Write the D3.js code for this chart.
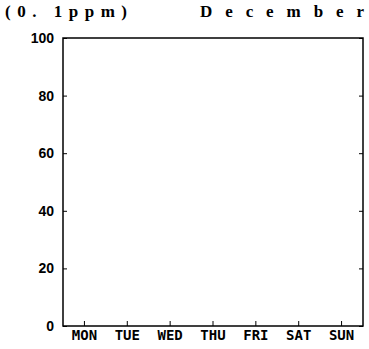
<!DOCTYPE html>
<meta charset="utf-8">
<style>
body { margin: 0; background: #fff; }
svg text { fill: #000; }
.axis path, .axis line { stroke: #000; }
</style>
<svg width="369" height="349"></svg>
<script src="https://d3js.org/d3.v7.min.js"></script>
<script>

// chart data
var days = ["MON", "TUE", "WED", "THU", "FRI", "SAT", "SUN"];
var yTicks = [0, 20, 40, 60, 80, 100];
var values = []; // no values plotted for December
var unitLabel = "(0. 1ppm)";
var monthLabel = "December";

var svg = d3.select("svg"),
    margin = {top: 38, right: 6, bottom: 23, left: 63},
    width = +svg.attr("width") - margin.left - margin.right,
    height = +svg.attr("height") - margin.top - margin.bottom;

var x = d3.scaleBand().domain(days).range([0, width]).padding(0),
    y = d3.scaleLinear().domain([0, 100]).range([height, 0]);

var g = svg.append("g")
    .attr("transform", "translate(" + margin.left + "," + margin.top + ")");

// frame
g.append("rect")
    .attr("width", width)
    .attr("height", height)
    .attr("fill", "none")
    .attr("stroke", "#000")
    .attr("stroke-width", 1.5);

// left axis, ticks pointing inward
var yAxis = g.append("g")
    .attr("class", "axis")
    .call(d3.axisLeft(y).tickValues(yTicks).tickSize(-4).tickPadding(9));
yAxis.select(".domain").remove();
yAxis.selectAll("text")
    .style("font-family", "Liberation Sans, Arial, sans-serif")
    .style("font-size", "14px")
    .style("font-weight", "bold");

// right axis ticks
var yAxisR = g.append("g")
    .attr("class", "axis")
    .attr("transform", "translate(" + width + ",0)")
    .call(d3.axisRight(y).tickValues(yTicks).tickSize(-4).tickFormat(""));
yAxisR.select(".domain").remove();

// bottom axis
var xAxis = g.append("g")
    .attr("class", "axis")
    .attr("transform", "translate(0," + height + ")")
    .call(d3.axisBottom(x).tickSize(-5).tickPadding(3));
xAxis.select(".domain").remove();
xAxis.selectAll("text")
    .style("font-family", "DejaVu Sans Mono, monospace")
    .style("font-size", "14px")
    .style("font-weight", "bold")
    .attr("dy", "0.75em");

// series (empty)
g.selectAll(".pt")
    .data(values)
    .enter().append("circle")
    .attr("cx", function(d) { return x(d.day) + x.bandwidth() / 2; })
    .attr("cy", function(d) { return y(d.value); })
    .attr("r", 2);

// titles, spread out with textLength
svg.append("text")
    .attr("x", 5)
    .attr("y", 17)
    .attr("textLength", 122)
    .attr("lengthAdjust", "spacing")
    .style("font-family", "Liberation Serif, Times New Roman, serif")
    .style("font-size", "17px")
    .style("font-weight", "bold")
    .text(unitLabel);

svg.append("text")
    .attr("x", 200)
    .attr("y", 17)
    .attr("textLength", 164)
    .attr("lengthAdjust", "spacing")
    .style("font-family", "Liberation Serif, Times New Roman, serif")
    .style("font-size", "17px")
    .style("font-weight", "bold")
    .text(monthLabel);

</script>
